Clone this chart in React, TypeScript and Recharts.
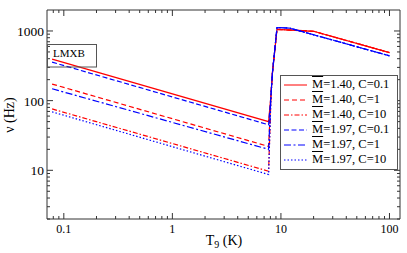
import React from "react"
import { Line, LineChart, XAxis, YAxis } from "recharts"

// temperature grid (T9) for each mass
const tM140 = [0.078, 7.7, 8.1, 8.35, 9.2, 20, 100]
const tM197 = [0.078, 7.7, 8.1, 8.35, 9.2, 12, 100]

// nu (Hz)
const nu140c01 = [395, 50, 120, 250, 1057, 990, 490]
const nu140c1 = [173, 22, 120, 250, 1057, 990, 490]
const nu140c10 = [76, 9.7, 120, 250, 1057, 990, 490]
const nu197c01 = [357, 45, 120, 250, 1120, 1100, 440]
const nu197c1 = [148, 20, 120, 250, 1120, 1100, 440]
const nu197c10 = [69, 8.7, 120, 250, 1120, 1100, 440]

const xTicks = [
  0.08, 0.09, 0.1, 0.2, 0.3, 0.4, 0.5, 0.6, 0.7, 0.8, 0.9, 1, 2, 3, 4, 5, 6, 7, 8, 9, 10,
  20, 30, 40, 50, 60, 70, 80, 90, 100,
]
const yTicks = [
  2, 3, 4, 5, 6, 7, 8, 9, 10, 20, 30, 40, 50, 60, 70, 80, 90, 100, 200, 300, 400, 500, 600,
  700, 800, 900, 1000,
]

const zip = (t: number[], v: number[]) => t.map((x, i) => ({ t: x, v: v[i] }))

const series = [
  { label: "1.40, C=0.1", data: zip(tM140, nu140c01), color: "#ff0000", dash: undefined },
  { label: "1.40, C=1", data: zip(tM140, nu140c1), color: "#ff0000", dash: "5 3" },
  { label: "1.40, C=10", data: zip(tM140, nu140c10), color: "#ff0000", dash: "5 2 1.5 2" },
  { label: "1.97, C=0.1", data: zip(tM197, nu197c01), color: "#0000ff", dash: "5 2.5" },
  { label: "1.97, C=1", data: zip(tM197, nu197c1), color: "#0000ff", dash: "7 2.5 2 2.5" },
  { label: "1.97, C=10", data: zip(tM197, nu197c10), color: "#0000ff", dash: "1.5 2" },
]

const FONT = "'Liberation Serif', 'DejaVu Serif', serif"
const AX = "#333"

const isMajor = (v: number) => Math.abs(Math.log10(v) - Math.round(Math.log10(v))) < 1e-6

function BottomTick(props: any) {
  const { x, y, payload } = props
  const major = isMajor(payload.value)
  return (
    <g>
      <line x1={x} x2={x} y1={y} y2={y - (major ? 6 : 3)} stroke={AX} />
      {major && (
        <text x={x} y={y + 14} textAnchor="middle" fontSize={12} fontFamily={FONT} fill="#000">
          {String(payload.value)}
        </text>
      )}
    </g>
  )
}

function TopTick(props: any) {
  const { x, y, payload } = props
  const major = isMajor(payload.value)
  return <line x1={x} x2={x} y1={y} y2={y + (major ? 6 : 3)} stroke={AX} />
}

function LeftTick(props: any) {
  const { x, y, payload } = props
  const major = isMajor(payload.value)
  return (
    <g>
      <line x1={x} x2={x + (major ? 6 : 3)} y1={y} y2={y} stroke={AX} />
      {major && (
        <text x={x - 3} y={y + 5} textAnchor="end" fontSize={13.5} fontFamily={FONT} fill="#000">
          {String(payload.value)}
        </text>
      )}
    </g>
  )
}

function RightTick(props: any) {
  const { x, y, payload } = props
  const major = isMajor(payload.value)
  return <line x1={x} x2={x - (major ? 6 : 3)} y1={y} y2={y} stroke={AX} />
}

export default function App() {
  return (
    <div style={{ position: "absolute", left: 0, top: 0, width: 407, height: 253, background: "#fff" }}>
      <LineChart width={407} height={253} margin={{ top: 9, right: 6, bottom: 0, left: 0 }}>
        <XAxis
          xAxisId="bottom"
          dataKey="t"
          type="number"
          scale="log"
          domain={[0.07, 125]}
          allowDataOverflow
          ticks={xTicks}
          interval={0}
          height={34}
          tickSize={0}
          tickMargin={0}
          tickLine={false}
          axisLine={{ stroke: AX }}
          tick={<BottomTick />}
        />
        <XAxis
          xAxisId="top"
          orientation="top"
          dataKey="t"
          type="number"
          scale="log"
          domain={[0.07, 125]}
          allowDataOverflow
          ticks={xTicks}
          interval={0}
          height={1}
          tickSize={0}
          tickMargin={0}
          tickLine={false}
          axisLine={{ stroke: AX }}
          tick={<TopTick />}
        />
        <YAxis
          yAxisId="left"
          type="number"
          scale="log"
          domain={[2, 2000]}
          allowDataOverflow
          ticks={yTicks}
          interval={0}
          width={47}
          tickSize={0}
          tickMargin={0}
          tickLine={false}
          axisLine={{ stroke: AX }}
          tick={<LeftTick />}
        />
        <YAxis
          yAxisId="right"
          orientation="right"
          type="number"
          scale="log"
          domain={[2, 2000]}
          allowDataOverflow
          ticks={yTicks}
          interval={0}
          width={1}
          tickSize={0}
          tickMargin={0}
          tickLine={false}
          axisLine={{ stroke: AX }}
          tick={<RightTick />}
        />
        {series.map((s) => (
          <Line
            key={s.label + s.color}
            xAxisId="bottom"
            yAxisId="left"
            data={s.data}
            dataKey="v"
            type="linear"
            stroke={s.color}
            strokeWidth={1.2}
            strokeDasharray={s.dash}
            dot={false}
            isAnimationActive={false}
          />
        ))}
      </LineChart>

      <svg
        width={407}
        height={253}
        style={{ position: "absolute", left: 0, top: 0, pointerEvents: "none" }}
        fontFamily={FONT}
      >
        <rect x={47.5} y={44.5} width={49} height={22.5} fill="none" stroke="#555" />
        <text x={53} y={56.7} fontSize={11} fill="#000">
          LMXB
        </text>
        <text x={224} y={245} textAnchor="middle" fontSize={14} fill="#000">
          T<tspan fontSize={10} dy={3}>9</tspan>
          <tspan dy={-3}> (K)</tspan>
        </text>
        <text x={13.5} y={115} textAnchor="middle" fontSize={14} fill="#000" transform="rotate(-90 13.5 115)">
          ν (Hz)
        </text>
      </svg>

      <div
        style={{
          position: "absolute",
          left: 280,
          top: 75,
          width: 116,
          height: 93,
          border: "1px solid #555",
          background: "#fff",
          fontFamily: FONT,
          fontSize: 12.5,
          color: "#000",
        }}
      >
        {series.map((s, i) => (
          <div
            key={i}
            style={{ position: "absolute", left: 0, top: 1 + i * 15, height: 15, lineHeight: "15px", whiteSpace: "nowrap" }}
          >
            <svg width={30} height={15} style={{ position: "absolute", left: 0, top: 0 }}>
              <line x1={3} x2={26} y1={8} y2={8} stroke={s.color} strokeWidth={1} strokeDasharray={s.dash} />
            </svg>
            <span style={{ position: "absolute", left: 31 }}>
              <span style={{ textDecoration: "overline" }}>M</span>={s.label}
            </span>
          </div>
        ))}
      </div>
    </div>
  )
}
